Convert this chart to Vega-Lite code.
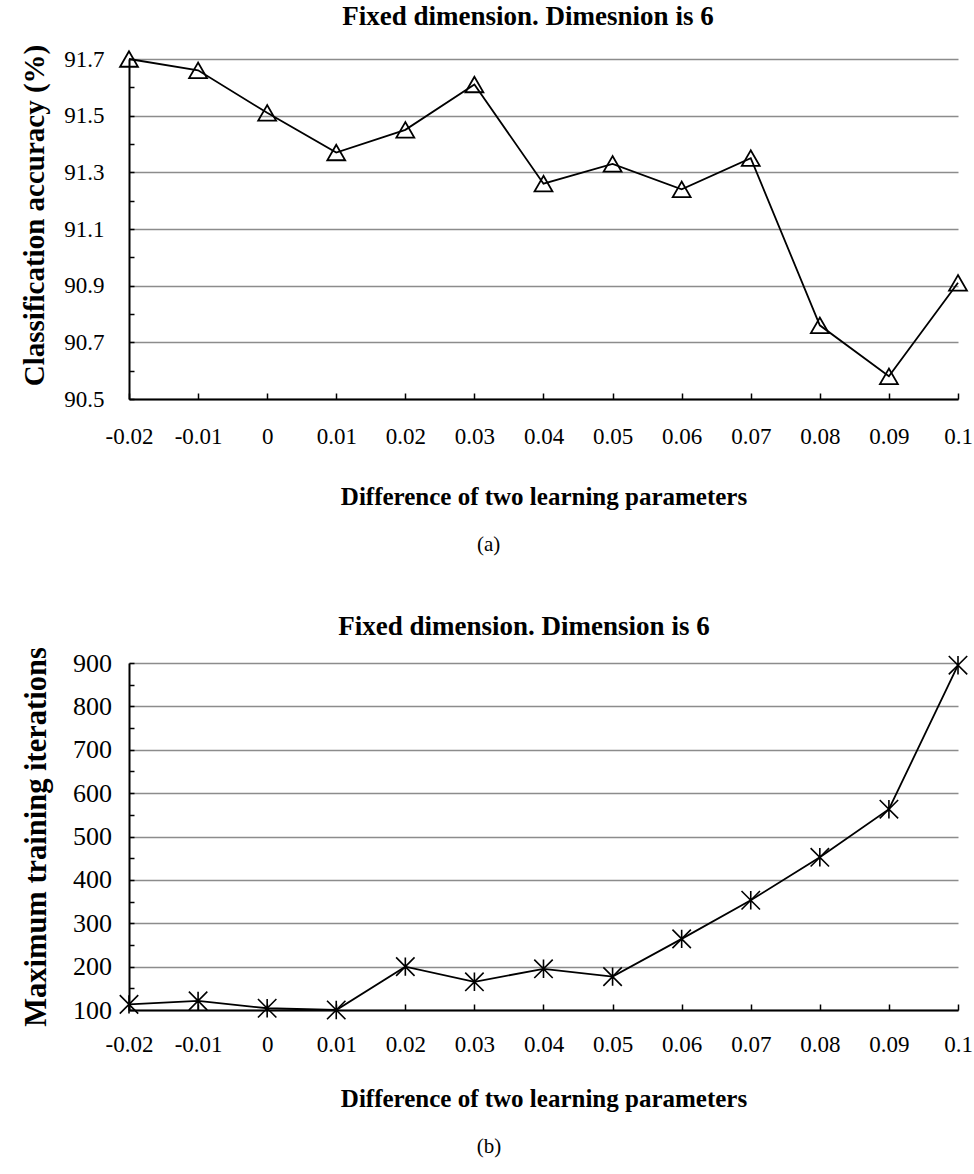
{
  "$schema": "https://vega.github.io/schema/vega-lite/v6.json",
  "background": "white",
  "padding": {"left": 20, "top": 3, "right": 0, "bottom": 4},
  "spacing": 57,
  "config": {
    "font": "Liberation Serif",
    "view": {"stroke": null},
    "axis": {
      "labelFont": "Liberation Serif",
      "titleFont": "Liberation Serif",
      "labelColor": "black",
      "titleColor": "black",
      "domainColor": "black",
      "tickColor": "black",
      "labelFontSize": 23,
      "titleFontSize": 25,
      "titleFontWeight": "bold",
      "domainWidth": 2,
      "tickWidth": 1.5,
      "gridColor": "#8c8c8c",
      "gridWidth": 1.5
    },
    "title": {"font": "Liberation Serif", "fontSize": 27, "fontWeight": "bold", "color": "black"}
  },
  "datasets": {
    "acc": [
      {"diff": -0.02, "accuracy": 91.70},
      {"diff": -0.01, "accuracy": 91.66},
      {"diff": 0.0, "accuracy": 91.51},
      {"diff": 0.01, "accuracy": 91.37},
      {"diff": 0.02, "accuracy": 91.45},
      {"diff": 0.03, "accuracy": 91.61},
      {"diff": 0.04, "accuracy": 91.26},
      {"diff": 0.05, "accuracy": 91.33},
      {"diff": 0.06, "accuracy": 91.24},
      {"diff": 0.07, "accuracy": 91.35},
      {"diff": 0.08, "accuracy": 90.76},
      {"diff": 0.09, "accuracy": 90.58},
      {"diff": 0.1, "accuracy": 90.91}
    ],
    "iter": [
      {"diff": -0.02, "iterations": 113},
      {"diff": -0.01, "iterations": 121},
      {"diff": 0.0, "iterations": 104},
      {"diff": 0.01, "iterations": 100},
      {"diff": 0.02, "iterations": 200},
      {"diff": 0.03, "iterations": 165},
      {"diff": 0.04, "iterations": 195},
      {"diff": 0.05, "iterations": 177},
      {"diff": 0.06, "iterations": 264},
      {"diff": 0.07, "iterations": 353},
      {"diff": 0.08, "iterations": 452},
      {"diff": 0.09, "iterations": 563},
      {"diff": 0.1, "iterations": 895}
    ]
  },
  "vconcat": [
    {
      "title": {"text": "(a)", "orient": "bottom", "anchor": "middle", "dx": -8, "fontWeight": "normal", "fontSize": 21, "offset": 24},
      "vconcat": [
        {
          "title": {"text": "Fixed dimension. Dimesnion is 6", "frame": "group", "anchor": "middle", "dx": -15.5, "offset": 13},
          "width": 829,
          "height": 340,
          "data": {"name": "acc"},
          "encoding": {
            "x": {
              "field": "diff", "type": "quantitative",
              "scale": {"domain": [-0.02, 0.1], "nice": false, "zero": false},
              "axis": {
                "title": "Difference of two learning parameters",
                "values": [-0.02, -0.01, 0, 0.01, 0.02, 0.03, 0.04, 0.05, 0.06, 0.07, 0.08, 0.09, 0.1],
                "labelExpr": "datum.value < 0 ? '-' + format(-datum.value, '.2~f') : format(datum.value, '.2~f')",
                "grid": false, "tickSize": -6, "labelPadding": 32.5, "titlePadding": 36, "labelFlush": false
              }
            },
            "y": {
              "field": "accuracy", "type": "quantitative",
              "scale": {"domain": [90.5, 91.7], "nice": false, "zero": false},
              "axis": {
                "title": "Classification accuracy (%)",
                "titleFontSize": 29,
                "titleY": 156,
                "values": [90.5, 90.6, 90.7, 90.8, 90.9, 91.0, 91.1, 91.2, 91.3, 91.4, 91.5, 91.6, 91.7],
                "labelExpr": "round(datum.value * 10) % 2 == 1 ? format(datum.value, '.1f') : ''",
                "gridOpacity": {"condition": {"test": "round(datum.value * 10) % 2 == 1", "value": 1}, "value": 0},
                "tickSize": -5, "labelPadding": 30, "titlePadding": 14, "labelFlush": false
              }
            }
          },
          "layer": [
            {"mark": {"type": "line", "color": "black", "strokeWidth": 1.8}},
            {"mark": {"type": "point", "shape": "triangle-up", "size": 320, "filled": false, "stroke": "black", "strokeWidth": 1.8, "opacity": 1}}
          ]
        }
      ]
    },
    {
      "title": {"text": "(b)", "orient": "bottom", "anchor": "middle", "dx": -8, "fontWeight": "normal", "fontSize": 21, "offset": 24},
      "vconcat": [
        {
          "title": {"text": "Fixed dimension. Dimension is 6", "frame": "group", "anchor": "middle", "dx": -19.5, "offset": 6},
          "width": 829,
          "height": 347,
          "data": {"name": "iter"},
          "encoding": {
            "x": {
              "field": "diff", "type": "quantitative",
              "scale": {"domain": [-0.02, 0.1], "nice": false, "zero": false},
              "axis": {
                "title": "Difference of two learning parameters",
                "values": [-0.02, -0.01, 0, 0.01, 0.02, 0.03, 0.04, 0.05, 0.06, 0.07, 0.08, 0.09, 0.1],
                "labelExpr": "datum.value < 0 ? '-' + format(-datum.value, '.2~f') : format(datum.value, '.2~f')",
                "grid": false, "tickSize": -6, "labelPadding": 29.5, "titlePadding": 30, "labelFlush": false
              }
            },
            "y": {
              "field": "iterations", "type": "quantitative",
              "scale": {"domain": [100, 900], "nice": false, "zero": false},
              "axis": {
                "title": "Maximum training iterations",
                "titleFontSize": 30.5,
                "labelFontSize": 26,
                "values": [100, 150, 200, 250, 300, 350, 400, 450, 500, 550, 600, 650, 700, 750, 800, 850, 900],
                "labelExpr": "datum.value % 100 == 0 ? format(datum.value, 'd') : ''",
                "gridOpacity": {"condition": {"test": "datum.value % 100 == 0", "value": 1}, "value": 0},
                "tickSize": -5, "labelPadding": 22.5, "titlePadding": 21, "labelFlush": false
              }
            }
          },
          "layer": [
            {"mark": {"type": "line", "color": "black", "strokeWidth": 1.8}},
            {"mark": {"type": "point", "shape": "M-1,-1L1,1M-1,1L1,-1M0,-1L0,1", "size": 340, "filled": false, "stroke": "black", "strokeWidth": 1.6, "opacity": 1}}
          ]
        }
      ]
    }
  ]
}
